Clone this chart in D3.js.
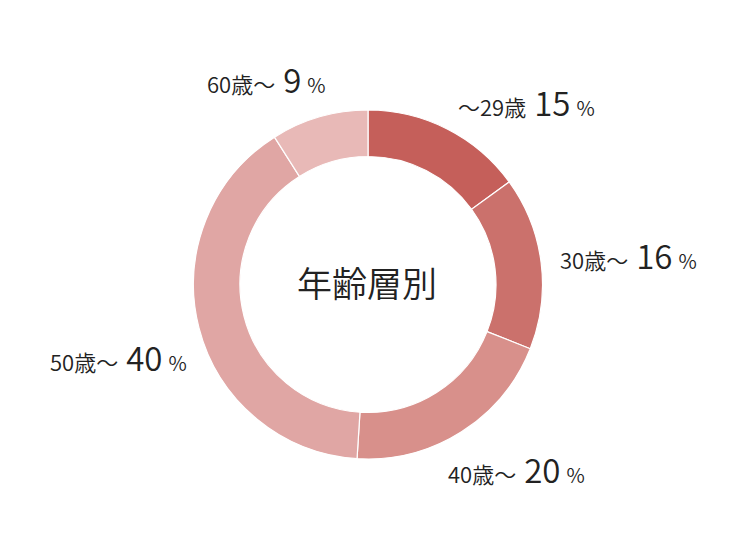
<!DOCTYPE html>
<html><head><meta charset="utf-8">
<script src="https://cdn.jsdelivr.net/npm/d3@7"></script>
<style>
html,body{margin:0;padding:0;background:#fff;}
svg{display:block;font-family:"Noto Sans CJK JP","Noto Sans",sans-serif;font-weight:350;}
</style></head>
<body>
<svg id="chart" width="750" height="550"></svg>
<script>
const categories = ["〜29歳", "30歳〜", "40歳〜", "50歳〜", "60歳〜"];
const values = [15, 16, 20, 40, 9];
const colors = ["#c55f5a", "#cb716c", "#d8908b", "#e0a6a4", "#e8b9b7"];
const title = "年齢層別";

// layout (label anchor offsets from the centre, in px)
const labelOffsets = [[90, -168.5], [192, -15.5], [80, 198.5], [-318, 86.5], [-161, -191.5]];

const W = 750, H = 550, cx = 368, cy = 284.5;
const outerR = 174.5, innerR = 128;

const svg = d3.select("#chart");
const g = svg.append("g").attr("transform", `translate(${cx},${cy})`);

const data = categories.map((c, i) => ({cat: c, value: values[i], color: colors[i], i}));
const pie = d3.pie().value(d => d.value).sort(null);
const arc = d3.arc().innerRadius(innerR).outerRadius(outerR);
const arcs = pie(data);

g.selectAll("path.slice").data(arcs).join("path")
  .attr("class", "slice")
  .attr("d", arc)
  .attr("fill", d => d.data.color)
  .attr("stroke", "#fff")
  .attr("stroke-width", 1.2);

g.append("text")
  .attr("x", -1).attr("y", 12)
  .attr("text-anchor", "middle")
  .attr("font-size", 35)
  .attr("fill", "#222")
  .text(title);

const labels = g.selectAll("text.lbl").data(arcs).join("text")
  .attr("class", "lbl")
  .attr("x", d => labelOffsets[d.data.i][0])
  .attr("y", d => labelOffsets[d.data.i][1])
  .attr("fill", "#222");
labels.append("tspan").attr("font-size", 22).text(d => d.data.cat);
labels.append("tspan").attr("font-size", 33).attr("dx", 8).text(d => d.data.value);
labels.append("tspan").attr("font-size", 20).attr("dx", 6).text("%");
</script>
</body></html>
